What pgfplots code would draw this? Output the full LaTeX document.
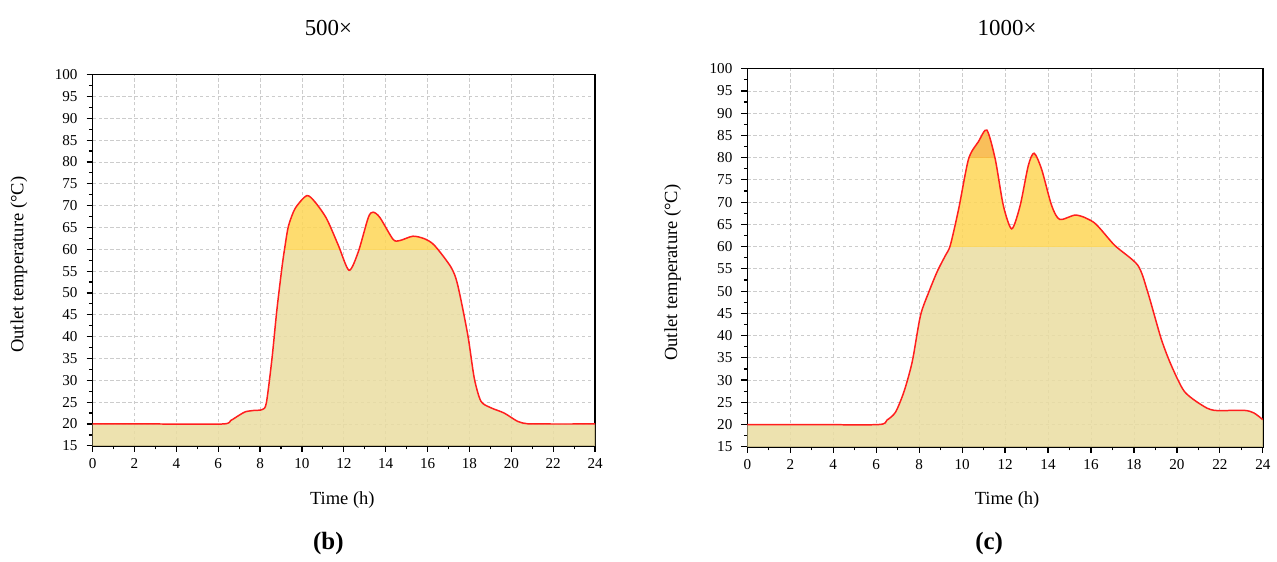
\documentclass[border=0pt]{standalone}
\usepackage{fontspec}
\setmainfont{Liberation Serif}
\usepackage{pgfplots}
\pgfplotsset{compat=1.18}
\usepackage{pgfplotstable}

% fill colours, drawn at opacity 0.85 so the grid shows through
\definecolor{khaki}{RGB}{234,221,161}
\definecolor{sunny}{RGB}{254,214,86}
\definecolor{peak}{RGB}{248,180,61}
\definecolor{curve}{RGB}{255,30,30}

% outlet temperature, 500x
\pgfplotstableread{
t T
0 20
3 20
6.2 20
6.6 20.8
7.0 22.0
7.3 22.8
7.7 23.1
8.1 23.3
8.3 24.8
8.57 35
8.8 46
9.05 56
9.2 61
9.36 65.4
9.68 69.4
10.23 72.3
10.63 70.8
11.18 67
11.74 60.9
12.25 55.2
12.69 59.4
13.17 67.3
13.4 68.5
13.72 67.3
14.35 62.3
14.67 62
15.3 63
15.86 62.4
16.33 60.9
17.12 55.9
17.44 51.8
17.92 40.4
18.23 30.5
18.55 25.2
19.03 23.7
19.66 22.5
20.3 20.6
20.77 20.05
21.5 20
24 20
}\tabB

% outlet temperature, 1000x
\pgfplotstableread{
t T
0 20
3 20
6.1 20
6.5 21
6.9 22.8
7.3 27.5
7.68 34.2
8.06 44.5
8.45 49.8
8.85 54.5
9.22 58
9.45 60.3
9.84 68.5
10.3 79.7
10.76 83.6
11.15 86.2
11.54 79.7
11.92 69.2
12.31 64
12.7 69.2
13.08 78.2
13.35 81
13.7 77.4
14.17 69.2
14.55 66.1
15.32 67.1
16.17 65.3
17.1 60.3
18.18 55.8
18.64 49.8
19.26 39.4
19.73 33.4
20.34 27.5
21.12 24.5
21.73 23.2
23.12 23.2
23.59 22.6
24 21.1
}\tabC

\pgfplotsset{
  tempaxis/.style={
    scale only axis,
    anchor=south west,
    xmin=0, xmax=24, ymin=15, ymax=100,
    xtick={0,2,...,24}, ytick={15,20,...,100},
    minor x tick num=1, minor y tick num=1,
    xtick pos=bottom, ytick pos=left,
    tick align=outside,
    major tick length=3pt, minor tick length=1.8pt,
    every tick/.style={black, line width=0.6pt},
    axis line style={line width=0.8pt},
    grid=major,
    major grid style={gray!40, line width=0.4pt, dash pattern=on 1.6pt off 1.4pt},
    ticklabel style={font=\fontsize{7.6}{8}\selectfont},
    /pgf/number format/assume math mode=true,
    yticklabel style={xshift=-1pt},
  },
  band/.style={draw=none, fill opacity=0.85, smooth, tension=0.45},
}

\begin{document}
\begin{tikzpicture}
\path (0,0) rectangle (638.5pt,280pt);

% (b) 500x
\begin{axis}[tempaxis, at={(46.5pt,56pt)}, width=252.5pt, height=186.5pt]
\begin{scope}
\clip (axis cs:0,15) rectangle (axis cs:24,60);
\addplot[band, fill=khaki] table[x=t,y=T] {\tabB} \closedcycle;
\end{scope}
\begin{scope}
\clip (axis cs:0,60) rectangle (axis cs:24,80);
\addplot[band, fill=sunny] table[x=t,y=T] {\tabB} \closedcycle;
\end{scope}
\addplot[curve, line width=0.75pt, smooth, tension=0.45] table[x=t,y=T] {\tabB};
\end{axis}

% (c) 1000x
\begin{axis}[tempaxis, at={(375.5pt,55.5pt)}, width=259pt, height=190pt]
\begin{scope}
\clip (axis cs:0,15) rectangle (axis cs:24,60);
\addplot[band, fill=khaki] table[x=t,y=T] {\tabC} \closedcycle;
\end{scope}
\begin{scope}
\clip (axis cs:0,60) rectangle (axis cs:24,80);
\addplot[band, fill=sunny] table[x=t,y=T] {\tabC} \closedcycle;
\end{scope}
\begin{scope}
\clip (axis cs:0,80) rectangle (axis cs:24,100);
\addplot[band, fill=peak] table[x=t,y=T] {\tabC} \closedcycle;
\end{scope}
\addplot[curve, line width=0.75pt, smooth, tension=0.45] table[x=t,y=T] {\tabC};
\end{axis}

% titles and labels
\node[font=\fontsize{11.5}{13}\selectfont] at (165pt,266pt) {500×};
\node[font=\fontsize{11.5}{13}\selectfont] at (506pt,266pt) {1000×};
\node[font=\fontsize{9.3}{11}\selectfont, rotate=90] at (9.5pt,147pt) {Outlet temperature (°C)};
\node[font=\fontsize{9.3}{11}\selectfont, rotate=90] at (338pt,143pt) {Outlet temperature (°C)};
\node[font=\fontsize{9.3}{11}\selectfont] at (172pt,29pt) {Time (h)};
\node[font=\fontsize{9.3}{11}\selectfont] at (506pt,29pt) {Time (h)};
\node[font=\bfseries\fontsize{12.5}{14}\selectfont] at (165pt,7pt) {(b)};
\node[font=\bfseries\fontsize{12.5}{14}\selectfont] at (497pt,7pt) {(c)};
\end{tikzpicture}
\end{document}
